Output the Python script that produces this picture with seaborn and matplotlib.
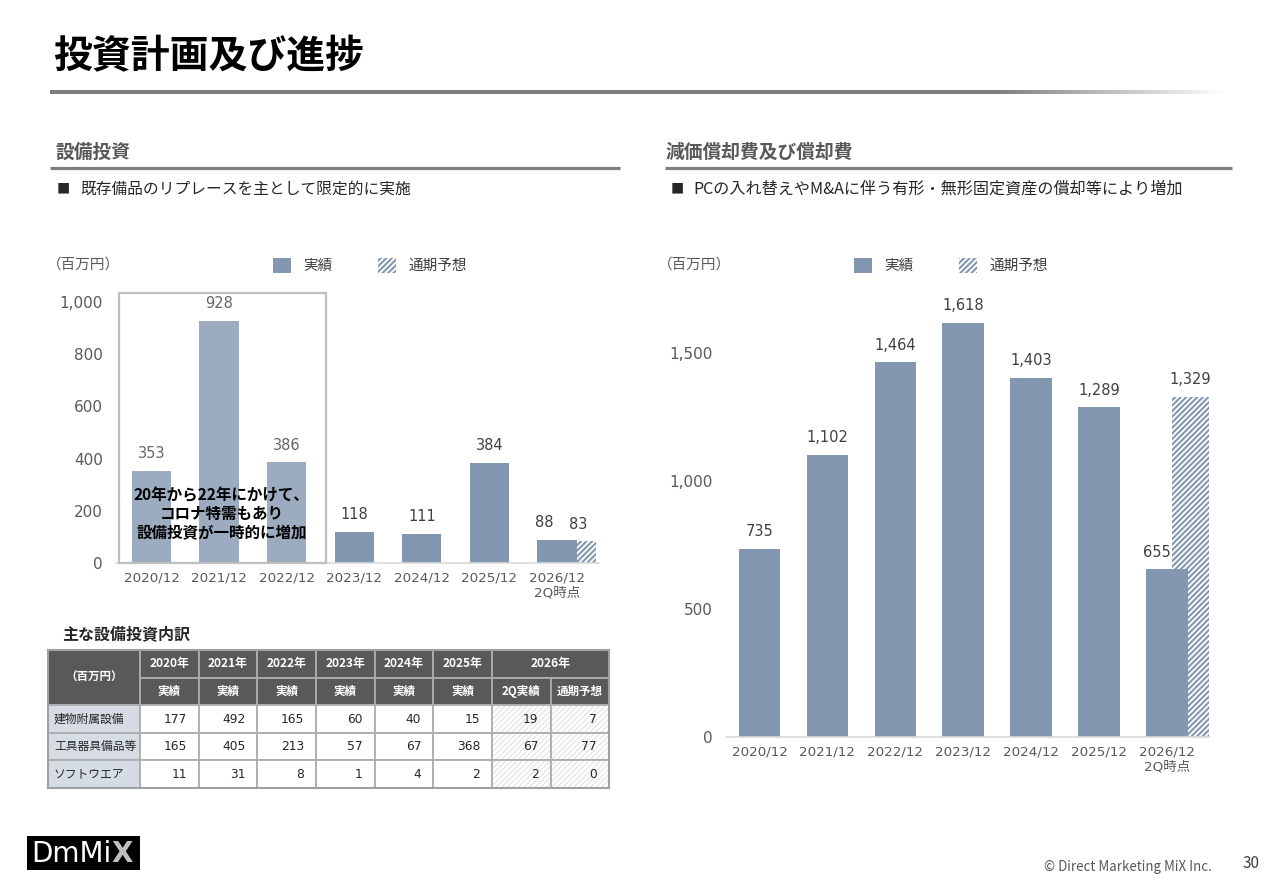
import numpy as np
import pandas as pd
import matplotlib
matplotlib.use("Agg")
import matplotlib.pyplot as plt
from matplotlib.patches import Rectangle
from matplotlib.ticker import FuncFormatter, MultipleLocator
import seaborn as sns

# ---------------- data ----------------
categories = ["2020/12", "2021/12", "2022/12", "2023/12", "2024/12", "2025/12", "2026/12\n2Q時点"]
capex_actual = [353, 928, 386, 118, 111, 384, 88]
capex_forecast_2026 = 83
dep_actual = [735, 1102, 1464, 1618, 1403, 1289, 655]
dep_forecast_2026 = 1329

legend_labels = ["実績", "通期予想"]

table_years = ["2020年", "2021年", "2022年", "2023年", "2024年", "2025年", "2026年"]
table_subheads = ["実績", "実績", "実績", "実績", "実績", "実績", "2Q実績", "通期予想"]
table_row_names = ["建物附属設備", "工具器具備品等", "ソフトウエア"]
row_building = [177, 492, 165, 60, 40, 15, 19, 7]
row_equipment = [165, 405, 213, 57, 67, 368, 67, 77]
row_software = [11, 31, 8, 1, 4, 2, 2, 0]
table_values = [row_building, row_equipment, row_software]

# ---------------- style ----------------
sns.set_theme(style="white")
plt.rcParams['font.family'] = ['Noto Sans CJK JP', 'DejaVu Sans']
plt.rcParams['hatch.linewidth'] = 1.5

NUMFONT = ['DejaVu Sans', 'Noto Sans CJK JP']
BAR = "#8497B0"
TICK = "#595959"
LABEL = "#404040"

W, H = 1280, 886
fig = plt.figure(figsize=(12.8, 8.86), dpi=100)
fig.patch.set_facecolor("white")

bg = fig.add_axes([0, 0, 1, 1])
bg.set_xlim(0, W)
bg.set_ylim(H, 0)
bg.axis("off")


def px_axes(left, right, bottom_px, top_px):
    return fig.add_axes([left / W, 1 - bottom_px / H, (right - left) / W, (bottom_px - top_px) / H])


def comma(v, p=None):
    return f"{int(round(v)):,}"


def style_axes(ax, ylim, step):
    ax.set_facecolor("none")
    ax.set_ylim(*ylim)
    ax.yaxis.set_major_locator(MultipleLocator(step))
    ax.yaxis.set_major_formatter(FuncFormatter(comma))
    sns.despine(ax=ax, left=True)
    ax.spines["bottom"].set_color("#D9D9D9")
    ax.spines["bottom"].set_linewidth(1.2)
    ax.tick_params(axis="y", length=0, pad=9.5, labelsize=11, labelcolor=TICK)
    ax.tick_params(axis="x", length=0, pad=6, labelsize=9.7, labelcolor=TICK)
    for t in ax.get_xticklabels() + ax.get_yticklabels():
        t.set_fontfamily(NUMFONT)
    ax.set_xlabel("")
    ax.set_ylabel("")
    ax.grid(False)


def draw_chart(ax, actual, forecast, xlim, ylim, step, fc_off, fc_w, bar_w, last_shift):
    df = pd.DataFrame({"period": categories, "value": actual})
    sns.barplot(data=df, x="period", y="value", color=BAR, saturation=1, width=bar_w,
                linewidth=0, ax=ax, zorder=2)
    fc = ax.bar([len(categories) - 1 + fc_off], [forecast], width=fc_w, facecolor="white",
                edgecolor=BAR, hatch="//////", linewidth=0, zorder=1)
    ax.set_xlim(*xlim)
    style_axes(ax, ylim, step)
    texts = ax.bar_label(ax.containers[0], labels=[comma(v) for v in actual], padding=7,
                         fontsize=10.5, color=LABEL, family=NUMFONT)
    texts[-1].xyann = (last_shift, 7)
    ax.bar_label(fc, labels=[comma(forecast)], padding=7, fontsize=10.5, color=LABEL,
                 family=NUMFONT)
    return ax.containers[0], fc


# ---------------- left chart ----------------
ax1 = px_axes(116.3, 599.0, 563, 302)
c1, f1 = draw_chart(ax1, capex_actual, capex_forecast_2026, (-0.52, 6.62), (0, 1000), 200,
                    0.315, 0.53, 0.58, -9.5)
# highlight box (2020-2022)
ax1.add_patch(Rectangle((-0.48, 0), 3.06, 1034, facecolor="white", alpha=0.2,
                        edgecolor="none", zorder=3, clip_on=False))
ax1.add_patch(Rectangle((-0.48, 0), 3.06, 1034, fill=False, edgecolor="#BFBFBF",
                        linewidth=1.6, zorder=4, clip_on=False))
ax1.text(1.04, 188, "20年から22年にかけて、\nコロナ特需もあり\n設備投資が一時的に増加",
         ha="center", va="center", fontsize=11.2, fontweight="bold", color="black",
         linespacing=1.2, zorder=5)
ax1.legend([c1, f1], legend_labels, loc="center left",
           bbox_to_anchor=(273 / W, 1 - 265.5 / H), bbox_transform=fig.transFigure,
           ncol=2, frameon=False, fontsize=10.5, handlelength=1.25, handleheight=1.25,
           handletextpad=0.85, columnspacing=3.1, borderpad=0, borderaxespad=0,
           labelcolor=LABEL)

# ---------------- right chart ----------------
ax2 = px_axes(725.5, 1209.0, 737, 302.1)
c2, f2 = draw_chart(ax2, dep_actual, dep_forecast_2026, (-0.5, 6.62), (0, 1700), 500,
                    0.345, 0.55, 0.61, -7.5)
ax2.legend([c2, f2], legend_labels, loc="center left",
           bbox_to_anchor=(854 / W, 1 - 265.5 / H), bbox_transform=fig.transFigure,
           ncol=2, frameon=False, fontsize=10.5, handlelength=1.25, handleheight=1.25,
           handletextpad=0.85, columnspacing=3.1, borderpad=0, borderaxespad=0,
           labelcolor=LABEL)

# ---------------- slide decorations ----------------
bg.text(53, 57, "投資計画及び進捗", fontsize=28, fontweight="bold", color="black", va="center")
# gradient rule under title
xs = np.linspace(50, 1225, 600)
g = np.clip((xs - 1000) / 225, 0, 1)
rgba = np.ones((1, len(xs), 4))
for k in range(3):
    rgba[0, :, k] = 0.50 + 0.5 * g
bg.imshow(rgba, extent=(50, 1225, 93.6, 90.4), aspect="auto", interpolation="bilinear", zorder=1)
bg.set_xlim(0, W)
bg.set_ylim(H, 0)

# section headers
bg.text(55, 152, "設備投資", fontsize=13.5, fontweight="bold", color="#595959", va="center")
bg.plot([50, 620], [168, 168], color="#7F7F7F", lw=2.3, solid_capstyle="butt")
bg.text(665, 152, "減価償却費及び償却費", fontsize=13.5, fontweight="bold", color="#595959", va="center")
bg.plot([665, 1232], [168, 168], color="#7F7F7F", lw=2.3, solid_capstyle="butt")

bg.text(57, 189.5, "■", fontsize=9.5, color="#262626", va="center")
bg.text(80, 189, "既存備品のリプレースを主として限定的に実施", fontsize=11.3, color="#262626", va="center")
bg.text(671, 189.5, "■", fontsize=9.5, color="#262626", va="center")
bg.text(693, 189, "PCの入れ替えやM&Aに伴う有形・無形固定資産の償却等により増加", fontsize=11.6,
        color="#262626", va="center")

# unit labels
bg.text(47, 265, "（百万円）", fontsize=10.5, color=TICK, va="center")
bg.text(658, 265, "（百万円）", fontsize=10.5, color=TICK, va="center")

# ---------------- table ----------------
bg.text(62, 634, "主な設備投資内訳", fontsize=11.5, fontweight="bold", color="#262626", va="center")
col_edges = [48, 140, 198.7, 257.3, 316, 374.7, 433.3, 492, 550.5, 609]
row_edges = [650, 677.5, 705, 732.5, 760, 787.5]
HEAD = "#595959"
GRID = "#ADADAD"


def cell(x0, x1, y0, y1, fc, hatch=None):
    p = Rectangle((x0, y0), x1 - x0, y1 - y0, facecolor=fc, edgecolor=GRID, linewidth=1.3,
                  zorder=2)
    bg.add_patch(p)
    if hatch:
        h = Rectangle((x0 + 1, y0 + 1), x1 - x0 - 2, y1 - y0 - 2, facecolor="white",
                      edgecolor="#D9D9D9", hatch=hatch, linewidth=0, zorder=2.5)
        try:
            h.set_hatch_linewidth(0.6)
        except AttributeError:
            pass
        bg.add_patch(h)


# header
cell(col_edges[0], col_edges[1], row_edges[0], row_edges[2], HEAD)
bg.text((col_edges[0] + col_edges[1]) / 2, (row_edges[0] + row_edges[2]) / 2, "（百万円）",
        ha="center", va="center", fontsize=8.3, fontweight="bold", color="white", zorder=3)
for i, yr in enumerate(table_years):
    x0 = col_edges[1 + i]
    x1 = col_edges[2 + i] if i < 6 else col_edges[-1]
    cell(x0, x1, row_edges[0], row_edges[1], HEAD)
    bg.text((x0 + x1) / 2, (row_edges[0] + row_edges[1]) / 2, yr, ha="center", va="center",
            fontsize=8.6, fontweight="bold", color="white", zorder=3)
for j, sh in enumerate(table_subheads):
    x0, x1 = col_edges[1 + j], col_edges[2 + j]
    cell(x0, x1, row_edges[1], row_edges[2], HEAD)
    bg.text((x0 + x1) / 2, (row_edges[1] + row_edges[2]) / 2, sh, ha="center", va="center",
            fontsize=8.3, fontweight="bold", color="white", zorder=3)
# body
for r, (name, vals) in enumerate(zip(table_row_names, table_values)):
    y0, y1 = row_edges[2 + r], row_edges[3 + r]
    cell(col_edges[0], col_edges[1], y0, y1, "#D6DCE4")
    bg.text(col_edges[0] + 6, (y0 + y1) / 2, name, ha="left", va="center", fontsize=8.5,
            color="#262626", zorder=3)
    for j, v in enumerate(vals):
        x0, x1 = col_edges[1 + j], col_edges[2 + j]
        cell(x0, x1, y0, y1, "white", hatch="//////" if j >= 6 else None)
        bg.text(x1 - 12, (y0 + y1) / 2 + 0.5, f"{v}", ha="right", va="center", fontsize=8.8,
                color="#262626", zorder=3, family=NUMFONT)
bg.add_patch(Rectangle((col_edges[0], row_edges[0]), col_edges[-1] - col_edges[0],
                       row_edges[-1] - row_edges[0], fill=False, edgecolor="#A0A0A0",
                       linewidth=1.5, zorder=4))

# ---------------- footer ----------------
bg.add_patch(Rectangle((27, 836), 113, 34, facecolor="black", edgecolor="none", zorder=2))
bg.text(31, 854, "DmMi", fontsize=20, color="white", va="center", family="DejaVu Sans", zorder=3)
bg.text(111, 854, "X", fontsize=20, color="#BFBFBF", va="center", family="DejaVu Sans",
        fontweight="bold", zorder=3)
bg.text(1212, 867, "© Direct Marketing MiX Inc.", ha="right", va="center", fontsize=9.6,
        color=TICK)
bg.text(1251, 864, "30", ha="center", va="center", fontsize=11, color=LABEL)

fig.savefig("out.png", dpi=100, facecolor="white")
